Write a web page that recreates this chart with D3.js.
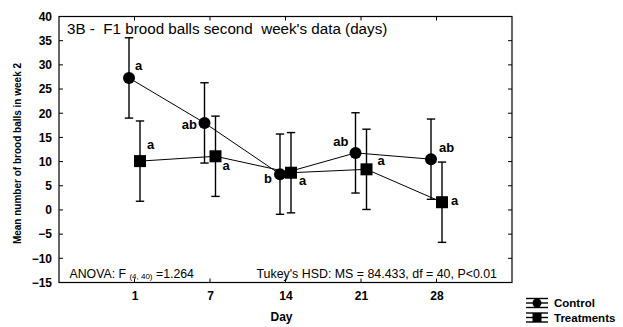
<!DOCTYPE html>
<html><head><meta charset="utf-8">
<script src="https://cdn.jsdelivr.net/npm/d3@7"></script>
<style>body{margin:0;background:#fff} text{font-family:Arial,"Liberation Sans",sans-serif;fill:#000}</style>
</head><body><svg id="c" width="623" height="327"></svg>
<script>
// ---- data ----
const days = ["1", "7", "14", "21", "28"];
const controlMean = [27.3, 18.0, 7.4, 11.8, 10.5];
const controlErr  = [8.3, 8.3, 8.3, 8.3, 8.3];
const treatMean   = [10.1, 11.1, 7.7, 8.4, 1.6];
const treatErr    = [8.3, 8.3, 8.3, 8.3, 8.3];
const controlLetters = ["a", "ab", "b", "ab", "ab"];
const treatLetters   = ["a", "a", "a", "a", "a"];
const yTicks = [40, 35, 30, 25, 20, 15, 10, 5, 0, -5, -10, -15];
const seriesNames = ["Control", "Treatments"];
const titleText = "3B -  F1 brood balls second  week's data (days)";
const yTitle = "Mean number of brood balls in week 2";
const xTitle = "Day";

// ---- style / placement ----
const controlLetterOff = [[6,-8,"start"],[-7.5,6,"end"],[-8,9,"end"],[-7,-7,"end"],[8,-7,"start"]];
const treatLetterOff   = [[7,-12,"start"],[7,14,"start"],[8,12,"start"],[11,-4,"start"],[9,3,"start"]];

const svg = d3.select("#c");
const L = 59, R = 512, T = 16.5, B = 282.5;
const x = d3.scaleLinear().domain([0, days.length + 1]).range([L, R]);
const y = d3.scaleLinear().domain([-15, 40]).range([B, T]);
const pos = i => x(i + 1);
const dC = -5.5, dT = 5.5;

// frame
svg.append("rect").attr("x", L).attr("y", T).attr("width", R - L).attr("height", B - T)
  .attr("fill", "none").attr("stroke", "#000").attr("stroke-width", 1.2);

// y axis labels & ticks
const yAxis = d3.axisLeft(y).tickValues(yTicks).tickSize(0).tickPadding(7);
const gy = svg.append("g").attr("transform", `translate(${L},0)`).call(yAxis);
gy.select(".domain").remove();
gy.selectAll("text").attr("font-size", 12).attr("font-weight", "bold")
  .attr("font-family", "Arial, 'Liberation Sans', sans-serif").attr("fill", "#000");
yTicks.forEach(v => {
  svg.append("line").attr("x1", L).attr("x2", L + 4).attr("y1", y(v)).attr("y2", y(v)).attr("stroke", "#000");
  svg.append("line").attr("x1", R - 4).attr("x2", R).attr("y1", y(v)).attr("y2", y(v)).attr("stroke", "#000");
});
// x axis
const xAxis = d3.axisBottom(x).tickValues(days.map((d, i) => i + 1)).tickFormat((d) => days[d - 1]).tickSize(0).tickPadding(9);
const gx = svg.append("g").attr("transform", `translate(0,${B})`).call(xAxis);
gx.select(".domain").remove();
gx.selectAll("text").attr("font-size", 12).attr("font-weight", "bold")
  .attr("font-family", "Arial, 'Liberation Sans', sans-serif").attr("fill", "#000");
days.forEach((d, i) => {
  svg.append("line").attr("x1", pos(i)).attr("x2", pos(i)).attr("y1", B).attr("y2", B - 4).attr("stroke", "#000");
  svg.append("line").attr("x1", pos(i)).attr("x2", pos(i)).attr("y1", T).attr("y2", T + 4).attr("stroke", "#000");
});

// titles
svg.append("text").attr("x", 67).attr("y", 34).attr("font-size", 15.2).style("white-space", "pre").text(titleText);
svg.append("text").attr("transform", `translate(21,${(T + B) / 2 + 4}) rotate(-90)`).attr("text-anchor", "middle")
  .attr("font-size", 10).attr("font-weight", "bold").text(yTitle);
svg.append("text").attr("x", 281.5).attr("y", 321).attr("text-anchor", "middle")
  .attr("font-size", 12).attr("font-weight", "bold").text(xTitle);

// stats annotations
const an = svg.append("text").attr("x", 69.5).attr("y", 277.5).attr("font-size", 12.3).style("white-space", "pre");
an.append("tspan").text("ANOVA: F ");
an.append("tspan").attr("font-size", 8).attr("dy", 1.5).text("(4, 40)");
an.append("tspan").attr("dy", -1.5).text(" =1.264");
svg.append("text").attr("x", 497).attr("y", 277.5).attr("text-anchor", "end").attr("font-size", 12.4)
  .text("Tukey's HSD: MS = 84.433, df = 40, P<0.01");

// series
const line = d3.line();
function drawSeries(mean, err, dx, shape, letters, off) {
  const pts = mean.map((m, i) => [pos(i) + dx, y(m)]);
  svg.append("path").attr("d", line(pts)).attr("fill", "none").attr("stroke", "#000").attr("stroke-width", 1);
  mean.forEach((m, i) => {
    const cx = pos(i) + dx, hi = y(m + err[i]), lo = y(m - err[i]);
    svg.append("line").attr("x1", cx).attr("x2", cx).attr("y1", hi).attr("y2", lo).attr("stroke", "#000").attr("stroke-width", 1.4);
    [hi, lo].forEach(yy => svg.append("line").attr("x1", cx - 4.2).attr("x2", cx + 4.2).attr("y1", yy).attr("y2", yy)
      .attr("stroke", "#000").attr("stroke-width", 1.4));
  });
  mean.forEach((m, i) => {
    const cx = pos(i) + dx, cy = y(m);
    if (shape === "circle") svg.append("circle").attr("cx", cx).attr("cy", cy).attr("r", 6).attr("fill", "#000");
    else svg.append("rect").attr("x", cx - 6).attr("y", cy - 6).attr("width", 12).attr("height", 12).attr("fill", "#000");
    svg.append("text").attr("x", cx + off[i][0]).attr("y", cy + off[i][1]).attr("text-anchor", off[i][2])
      .attr("font-size", 13).attr("font-weight", "bold").text(letters[i]);
  });
}
drawSeries(controlMean, controlErr, dC, "circle", controlLetters, controlLetterOff);
drawSeries(treatMean, treatErr, dT, "square", treatLetters, treatLetterOff);

// legend
seriesNames.forEach((name, k) => {
  const cy = 303 + k * 14.5, cx = 537;
  const g = svg.append("g");
  [-4.5, 0, 4.5].forEach(o => g.append("line").attr("x1", cx - 11).attr("x2", cx + 11).attr("y1", cy + o).attr("y2", cy + o)
    .attr("stroke", "#000").attr("stroke-width", 1.4));
  g.append("line").attr("x1", cx).attr("x2", cx).attr("y1", cy - 4.5).attr("y2", cy + 4.5).attr("stroke", "#000").attr("stroke-width", 1.4);
  if (k === 0) g.append("circle").attr("cx", cx).attr("cy", cy).attr("r", 4.5).attr("fill", "#000");
  else g.append("rect").attr("x", cx - 4.5).attr("y", cy - 4.5).attr("width", 9).attr("height", 9).attr("fill", "#000");
  svg.append("text").attr("x", 554).attr("y", cy + 4).attr("font-size", 11.5).attr("font-weight", "bold").text(name);
});
</script></body></html>
